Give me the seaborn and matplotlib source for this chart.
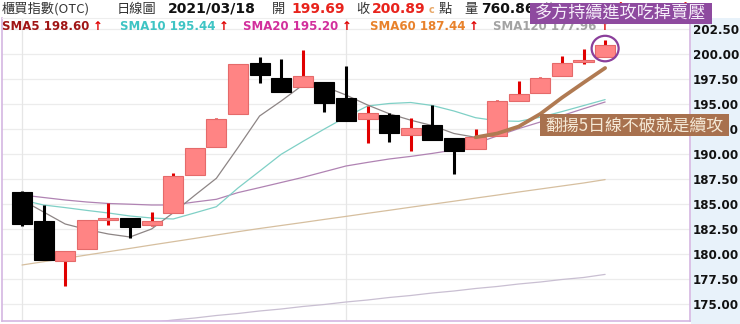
import numpy as np
import matplotlib
matplotlib.use("Agg")
import matplotlib.pyplot as plt
from matplotlib.patches import Rectangle, Ellipse
import seaborn as sns

# ---------------- data ----------------
opens = [186.2, 183.33, 179.33, 180.5, 183.4, 183.57, 182.9, 184.07, 187.93, 190.67,
         194.0, 199.13, 197.63, 196.67, 197.17, 195.57, 193.47, 193.9, 191.9, 192.9,
         191.57, 190.47, 191.8, 195.33, 196.13, 197.8, 199.23, 199.69]
closes = [183.0, 179.4, 180.3, 183.4, 183.63, 182.73, 183.3, 187.8, 190.57, 193.47,
          199.0, 197.9, 196.17, 197.8, 195.07, 193.3, 194.07, 192.07, 192.57, 191.4,
          190.33, 191.67, 195.3, 195.97, 197.57, 199.07, 199.4, 200.89]
highs = [186.3, 184.9, 180.3, 183.4, 185.13, 183.6, 184.17, 188.07, 190.6, 193.57,
         199.0, 199.67, 199.47, 200.4, 197.2, 198.8, 194.8, 194.07, 193.57, 194.9,
         191.6, 192.5, 195.4, 197.3, 197.73, 199.83, 200.5, 201.4]
lows = [182.8, 179.4, 176.8, 180.5, 182.9, 181.57, 182.8, 184.07, 187.93, 190.67,
        194.0, 197.07, 196.17, 196.67, 194.23, 193.3, 191.13, 191.23, 190.33, 191.4,
        188.0, 190.47, 191.8, 195.33, 196.13, 197.8, 198.97, 199.69]

sma5 = [185.4, 184.2, 183.0, 182.45, 182.0, 181.7, 182.5, 184.12, 185.87, 187.57,
        190.64, 193.8, 195.3, 196.9, 196.75, 195.9, 194.9, 194.03, 193.38, 192.84,
        192.05, 191.67, 192.05, 192.75, 194.01, 195.63, 197.13, 198.6]
sma10 = [185.4, 184.9, 184.64, 184.36, 184.1, 183.8, 183.6, 183.5, 184.11, 184.73,
         186.6, 188.28, 189.97, 191.25, 192.5, 193.7, 194.8, 195.05, 195.15, 194.85,
         194.3, 193.63, 193.32, 193.27, 193.68, 194.24, 194.84, 195.44]
sma20 = [185.9, 185.65, 185.4, 185.2, 185.05, 184.98, 184.9, 184.9, 185.2, 185.47,
         186.14, 186.64, 187.15, 187.66, 188.23, 188.8, 189.16, 189.5, 189.76, 190.06,
         190.4, 191.05, 191.8, 192.54, 193.2, 193.84, 194.53, 195.2]
sma60 = [178.9, 179.23, 179.56, 179.9, 180.23, 180.56, 180.9, 181.23, 181.56, 181.9,
         182.23, 182.55, 182.85, 183.15, 183.46, 183.76, 184.07, 184.37, 184.68, 184.98,
         185.28, 185.59, 185.89, 186.2, 186.5, 186.8, 187.1, 187.44]
sma120 = [171.8, 172.0, 172.25, 172.5, 172.7, 172.95, 173.15, 173.4, 173.6, 173.85,
          174.05, 174.3, 174.5, 174.75, 174.95, 175.2, 175.4, 175.65, 175.85, 176.1,
          176.3, 176.55, 176.75, 177.0, 177.2, 177.45, 177.65, 177.96]

ytick_vals = [175.0, 177.5, 180.0, 182.5, 185.0, 187.5, 190.0, 192.5, 195.0, 197.5, 200.0, 202.5]
month_start_idx = [0, 15]
highlight_start = 21  # index where the hand-drawn SMA5 highlight begins

title_txt = "櫃買指數(OTC)"
period_txt = "日線圖"
date_txt = "2021/03/18"
open_txt = "199.69"
close_txt = "200.89"
vol_txt = "760.86"
chg_txt = "+1.40 (+0.75%)"
note_top = "多方持續進攻吃掉賣壓"
note_mid = "翻揚5日線不破就是續攻"

# ---------------- figure ----------------
sns.set_style("white")
plt.rcParams['font.family'] = ['Noto Sans CJK TC', 'DejaVu Sans']

W, H = 740, 324
fig = plt.figure(figsize=(W / 100, H / 100), dpi=100)
fig.patch.set_facecolor("white")

def fx(px):
    return px / W

def fy(py):
    return 1 - py / H

# right-axis light blue band
fig.add_artist(Rectangle((fx(691), 0), 1 - fx(691), fy(18), transform=fig.transFigure,
                         facecolor="#e8f2fa", edgecolor="none", zorder=-5))

ax = fig.add_axes([fx(2), fy(321), (690 - 2) / W, (321 - 18) / H])
ax.set_facecolor("white")

idx = np.arange(len(opens))
ax.set_xlim(-0.926, 30.93)
ax.set_ylim(173.3, 203.6)

# grid
for v in ytick_vals:
    ax.axhline(v, color="#ececec", lw=0.9, zorder=0)
for i in month_start_idx:
    ax.axvline(idx[i], color="#e6e6e6", lw=0.9, zorder=0)

# moving averages
sns.lineplot(x=idx, y=sma120, ax=ax, color="#c9bfd2", lw=0.9, zorder=1)
sns.lineplot(x=idx, y=sma60, ax=ax, color="#d6bf9f", lw=0.9, zorder=1)
sns.lineplot(x=idx, y=sma20, ax=ax, color="#b083b3", lw=0.9, zorder=1)
sns.lineplot(x=idx, y=sma10, ax=ax, color="#7fd0c6", lw=0.9, zorder=1)
sns.lineplot(x=idx, y=sma5, ax=ax, color="#8d8585", lw=0.9, zorder=1)

# candles
o = np.array(opens); c = np.array(closes)
up = c >= o
bottoms = np.minimum(o, c)
heights = np.maximum(np.abs(c - o), 0.2)
body_colors = np.where(up, "#ff8484", "#000000")
edge_colors = np.where(up, "#e56a6a", "#000000")
wick_colors = np.where(up, "#e00000", "#000000")
ax.vlines(idx, lows, highs, colors=wick_colors, lw=2.2, zorder=2.5)
ax.bar(idx, heights, bottom=bottoms, width=0.93, color=body_colors,
       edgecolor=edge_colors, linewidth=0.8, zorder=3)

# hand-drawn highlight of SMA5
sns.lineplot(x=idx[highlight_start:], y=sma5[highlight_start:], ax=ax,
             color="#b07a52", lw=2.7, zorder=5)

# circle on last candle
last = len(opens) - 1
ax.add_patch(Ellipse((idx[last], (highs[last] + lows[last]) / 2), width=1.25, height=2.55,
                     fill=False, edgecolor="#8b3f9b", lw=1.6, zorder=6))

# axes styling
ax.yaxis.tick_right()
ax.set_yticks(ytick_vals)
ax.set_yticklabels([f"{v:.2f}" for v in ytick_vals], fontsize=8.6, fontweight="bold",
                   color="#111111", family="DejaVu Sans")
ax.tick_params(axis="y", length=0, pad=2)
ax.set_xticks([])
ax.set_xlabel(""); ax.set_ylabel("")
for s in ["left", "bottom", "right"]:
    ax.spines[s].set_color("#d4b6e2")
    ax.spines[s].set_linewidth(1.2)
ax.spines["top"].set_color("#eeeeee")
ax.spines["top"].set_linewidth(0.8)
if ax.get_legend():
    ax.get_legend().remove()

# ---------------- header row 1 ----------------
r1 = fy(9)
fig.text(fx(2), r1, title_txt, fontsize=9.5, color="#333333", va="center", ha="left")
fig.text(fx(117), r1, period_txt, fontsize=9.5, color="#333333", va="center", ha="left")
fig.text(fx(168), r1, date_txt, fontsize=10, fontweight="bold", color="#111111",
         va="center", ha="left", family="DejaVu Sans")
fig.text(fx(272), r1, "開", fontsize=9.5, color="#333333", va="center", ha="left")
fig.text(fx(291), r1, open_txt, fontsize=10, fontweight="bold", color="#e8231c",
         va="center", ha="left", family="DejaVu Sans")
fig.text(fx(356), r1, "收", fontsize=9.5, color="#333333", va="center", ha="left")
fig.text(fx(372), r1, close_txt, fontsize=10, fontweight="bold", color="#e8231c",
         va="center", ha="left", family="DejaVu Sans")
fig.text(fx(429), r1 - 0.004, "c", fontsize=7, fontweight="bold", color="#e8a868",
         va="center", ha="left", family="DejaVu Sans")
fig.text(fx(439), r1, "點", fontsize=9.5, color="#333333", va="center", ha="left")
fig.text(fx(464), r1, "量", fontsize=9.5, color="#333333", va="center", ha="left")
fig.text(fx(481), r1, vol_txt, fontsize=10, fontweight="bold", color="#111111",
         va="center", ha="left", family="DejaVu Sans")
fig.text(fx(543), r1, "億", fontsize=9.5, color="#888888", va="center", ha="left")
fig.text(fx(566), r1, chg_txt, fontsize=10, fontweight="bold", color="#e8231c",
         va="center", ha="left", family="DejaVu Sans")

# ---------------- header row 2 (SMA values) ----------------
r2 = fy(26)
sma_labels = [("SMA5 198.60", "#a01515", 2), ("SMA10 195.44", "#3fc4c4", 120),
              ("SMA20 195.20", "#d22f9c", 243), ("SMA60 187.44", "#e8822c", 370),
              ("SMA120 177.96", "#a3a3a3", 493)]
for lab, col, px in sma_labels:
    t = fig.text(fx(px), r2, lab, fontsize=8.5, fontweight="bold", color=col,
                 va="center", ha="left", family="DejaVu Sans")
    fig.canvas.draw()
    bb = t.get_window_extent()
    fig.text(bb.x1 / W + fx(3), r2, "↑", fontsize=8.5, fontweight="bold", color="#e00000",
             va="center", ha="left", family="DejaVu Sans")

# ---------------- annotation boxes ----------------
fig.add_artist(Rectangle((fx(530), fy(24)), (712 - 530) / W, (24 - 3) / H,
                         transform=fig.transFigure, facecolor="#8e4a9f",
                         edgecolor="none", zorder=20))
fig.text(fx(621), fy(13.5), note_top, fontsize=12.3, color="#f6eefa", ha="center",
         va="center", zorder=21)

fig.add_artist(Rectangle((fx(540), fy(136)), (729 - 540) / W, (136 - 114) / H,
                         transform=fig.transFigure, facecolor="#a8714e",
                         edgecolor="none", zorder=20))
fig.text(fx(634.5), fy(125), note_mid, fontsize=12.2, color="#f5e9d6", ha="center",
         va="center", zorder=21)

fig.savefig("out.png", dpi=100)
